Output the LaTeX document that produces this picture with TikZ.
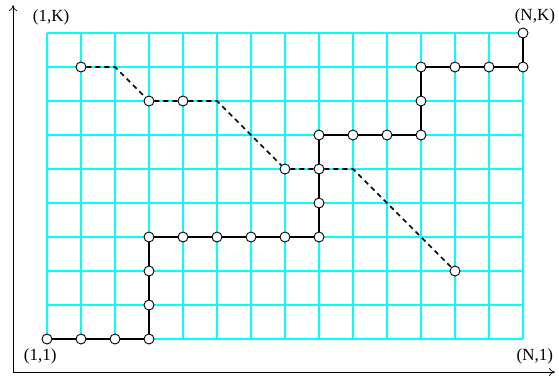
\documentclass[tikz,border=0pt]{standalone}
\usepackage{fontspec}
\setmainfont{Liberation Serif}
\usetikzlibrary{arrows.meta}

\definecolor{gridcyan}{RGB}{0,255,255}
\tikzset{
  pt/.style={circle,draw,fill=white,line width=0.9pt,inner sep=0pt,minimum size=10pt},
  route/.style={line width=1.6pt},
  alt/.style={line width=1.6pt,dash pattern=on 5pt off 4pt},
  lbl/.style={font=\fontsize{17}{19}\selectfont}
}

\begin{document}
\begin{tikzpicture}[x=34pt,y=34pt]
  \useasboundingbox (-1.382,-1.324) rectangle (15.059,9.971);
  % lattice
  \draw[gridcyan,line width=1.1pt,step=34pt] (0,0) grid (14,9);
  % axes
  \draw[-{To[length=6pt,width=8pt]},line width=0.7pt] (-1,-0.97) -- (-1,9.82);
  \draw[-{To[length=6pt,width=8pt]},line width=0.7pt] (-1,-0.97) -- (14.94,-0.97);
  \node[lbl] (ak) at (0.12,9.45) {(1,K)};
  \node[lbl] (nk) at (14.35,9.5) {(N,K)};
  \node[lbl] (a1) at (-0.2,-0.5) {(1,1)};
  \node[lbl] (n1) at (14.35,-0.5) {(N,1)};
  % solid path
  \foreach \i/\j in {0/0,1/0,2/0,3/0,3/1,3/2,3/3,4/3,5/3,6/3,7/3,8/3,8/4,8/5,8/6,
                     9/6,10/6,11/6,11/7,11/8,12/8,13/8,14/8,14/9}
    \node[pt] (s-\i-\j) at (\i,\j) {};
  \draw[route] (s-0-0) -- (s-1-0) -- (s-2-0) -- (s-3-0) -- (s-3-1) -- (s-3-2) -- (s-3-3)
    -- (s-4-3) -- (s-5-3) -- (s-6-3) -- (s-7-3) -- (s-8-3) -- (s-8-4) -- (s-8-5) -- (s-8-6)
    -- (s-9-6) -- (s-10-6) -- (s-11-6) -- (s-11-7) -- (s-11-8) -- (s-12-8) -- (s-13-8)
    -- (s-14-8) -- (s-14-9);
  % dashed path
  \foreach \i/\j in {1/8,3/7,4/7,7/5,12/2}
    \node[pt] (d-\i-\j) at (\i,\j) {};
  \coordinate (c-2-8) at (2,8);
  \coordinate (c-5-7) at (5,7);
  \coordinate (c-9-5) at (9,5);
  \draw[alt] (d-1-8) -- (c-2-8) -- (d-3-7) -- (d-4-7) -- (c-5-7) -- (d-7-5) -- (s-8-5)
    -- (c-9-5) -- (d-12-2);
\end{tikzpicture}
\end{document}
